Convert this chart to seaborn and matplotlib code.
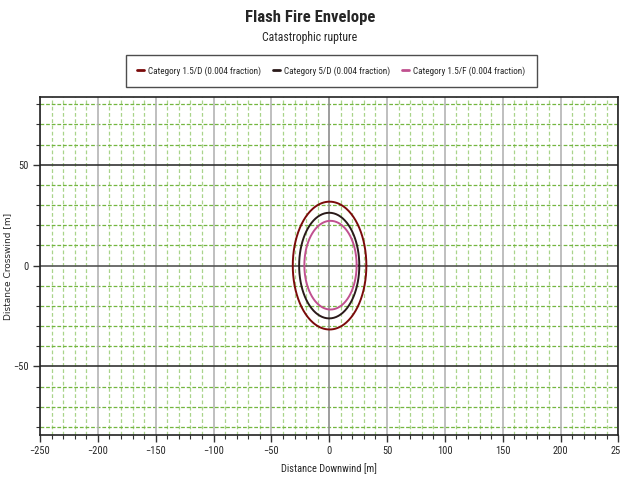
import numpy as np
import pandas as pd
import matplotlib
matplotlib.use("Agg")
import matplotlib.pyplot as plt
import seaborn as sns
from matplotlib import font_manager

# envelope data (centre x, centre y, half-width, half-height in m)
categories = ["Category 1.5/D (0.004 fraction)",
              "Category 5/D (0.004 fraction)",
              "Category 1.5/F (0.004 fraction)"]
centre_x = [0.3, 0.0, 1.1]
centre_y = [0.0, 0.0, 0.2]
half_w = [31.8, 26.0, 22.6]
half_h = [31.7, 26.2, 22.0]
colors = ["#7a0a0a", "#2a1a1a", "#c0508f"]

x_ticks = [-250, -200, -150, -100, -50, 0, 50, 100, 150, 200, 250]
y_ticks = [-50, 0, 50]

# pick a narrow face if one is around
installed = {f.name for f in font_manager.fontManager.ttflist}
narrow = [f for f in ["Liberation Sans Narrow", "DejaVu Sans Condensed", "Roboto Condensed"]
          if f in installed] + ["DejaVu Sans"]

# build outline points for each envelope
t = np.linspace(0, 2 * np.pi, 241)
frames = []
for i, cat in enumerate(categories):
    frames.append(pd.DataFrame({
        "x": centre_x[i] + half_w[i] * np.cos(t),
        "y": centre_y[i] + half_h[i] * np.sin(t),
        "cat": cat,
    }))
df = pd.concat(frames, ignore_index=True)

sns.set_style("white")
fig = plt.figure(figsize=(6.2, 4.79), dpi=100)
ax = fig.add_axes([0.0645, 0.092, 0.933, 0.705])

# grid: green dashed minor every 10 m, grey/black major every 50 m
for v in range(-240, 250, 10):
    if v % 50:
        ax.axvline(v, color="#a9d48a", lw=0.9, ls=(0, (3, 2)), zorder=0)
for v in range(-80, 90, 10):
    if v % 50:
        ax.axhline(v, color="#74b640", lw=0.9, ls=(0, (3, 1.5)), zorder=0)
for v in x_ticks:
    ax.axvline(v, color="#b4b4b4" if v else "#8c8c8c", lw=1.2, zorder=0.5)
for v in y_ticks:
    ax.axhline(v, color="#333333" if v else "#555555", lw=1.2, zorder=0.5)

sns.lineplot(data=df, x="x", y="y", hue="cat", palette=colors, sort=False,
             units="cat", estimator=None, lw=1.4, ax=ax, legend=False)

ax.set_xlim(-250, 250)
ax.set_ylim(-84, 83.5)
ax.set_xticks(x_ticks)
ax.set_yticks(y_ticks)
ax.set_xticks(range(-240, 250, 10), minor=True)
ax.set_yticks(range(-80, 90, 10), minor=True)
ax.tick_params(axis="both", which="major", direction="out", length=5, width=1,
               color="#333333", labelsize=7.5, pad=3, bottom=True, left=True)
ax.tick_params(axis="both", which="minor", direction="out", length=3, width=0.8,
               color="#333333", bottom=True, left=True)
for lab in ax.get_xticklabels() + ax.get_yticklabels():
    lab.set_family(narrow)
for s in ax.spines.values():
    s.set_color("#222222")
    s.set_linewidth(1.2)

ax.set_xlabel("Distance Downwind [m]", fontsize=7.5, family=narrow, labelpad=5)
ax.set_ylabel("Distance Crosswind [m]", fontsize=6.5)
ax.yaxis.set_label_coords(-0.048, 0.5)

fig.text(0.5, 0.963, "Flash Fire Envelope", ha="center", va="center",
         fontsize=12, fontweight="bold", family=narrow)
fig.text(0.5, 0.921, "Catastrophic rupture", ha="center", va="center",
         fontsize=8.5, family=narrow)

handles = [plt.Line2D([], [], color=c, lw=2) for c in colors]
leg = fig.legend(handles, categories, loc="center", bbox_to_anchor=(0.534, 0.852),
                 ncol=3, frameon=True, fancybox=False,
                 handlelength=0.8, handletextpad=0.4, columnspacing=1.3,
                 borderpad=1.25, prop={"family": narrow, "size": 6.6})
leg.get_frame().set_edgecolor("#222222")
leg.get_frame().set_linewidth(1.0)

fig.savefig("out.png", dpi=100)
